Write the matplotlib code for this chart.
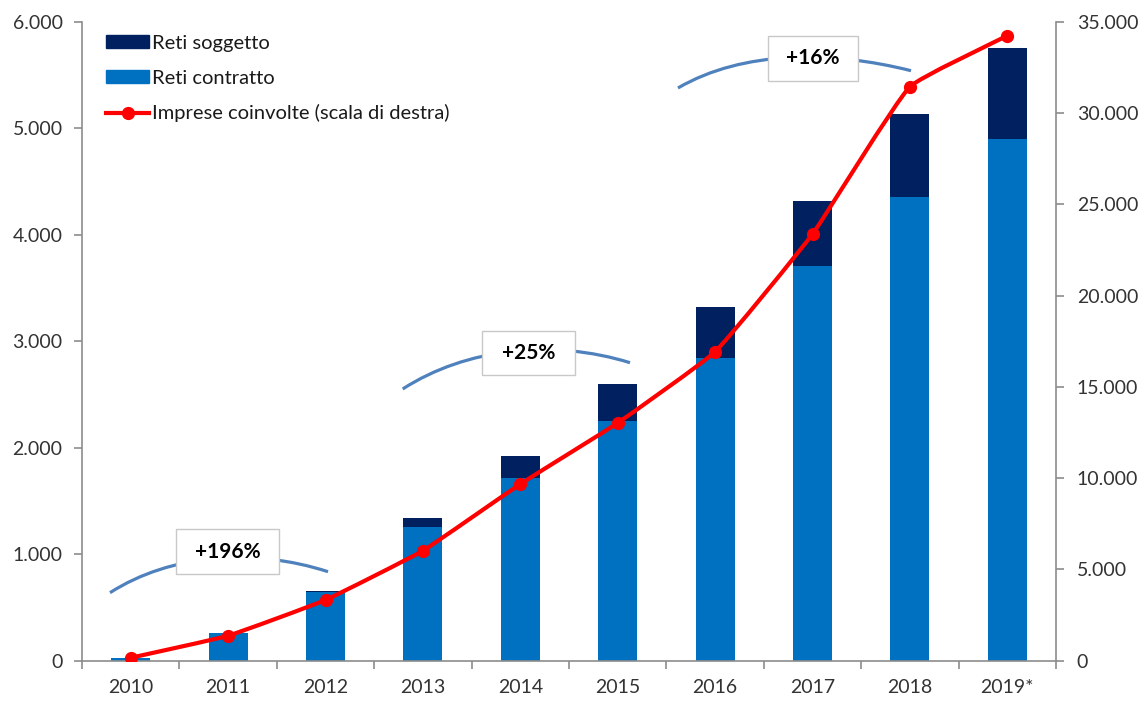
import numpy as np
import matplotlib
matplotlib.use('Agg')
import matplotlib.pyplot as plt
from matplotlib.path import Path
from matplotlib.patches import PathPatch, Rectangle, Patch
from matplotlib.lines import Line2D
from matplotlib.ticker import FuncFormatter

plt.rcParams['font.family'] = ['Lato', 'DejaVu Sans']

##------------------------------------------
# dati
anni = ['2010', '2011', '2012', '2013', '2014', '2015', '2016', '2017', '2018', '2019*']
reti_contratto = [28, 257, 642, 1257, 1713, 2252, 2847, 3708, 4358, 4905]
reti_soggetto = [0, 0, 13, 79, 213, 348, 473, 608, 781, 848]
imprese = [160, 1370, 3330, 6030, 9680, 13030, 16930, 23380, 31450, 34250]
variazioni = ['+196%', '+25%', '+16%']

BLU = '#0070C0'
NAVY = '#002060'
ROSSO = '#FF0000'
GRIGIO = '#8C8C8C'
TESTO = '#333333'


def smooth_path(xs, ys, sx, sy, k=0.12):
    # curva tipo Excel: tangenti Catmull-Rom, lunghezza scalata sul segmento (in pixel)
    pts = np.column_stack([np.asarray(xs) * sx, np.asarray(ys) * sy]).astype(float)
    n = len(pts)
    verts = [pts[0]]
    codes = [Path.MOVETO]
    for i in range(n - 1):
        p0 = pts[max(i - 1, 0)]
        p1 = pts[i]
        p2 = pts[i + 1]
        p3 = pts[min(i + 2, n - 1)]
        L = np.hypot(*(p2 - p1))
        t1 = (p2 - p0) / np.hypot(*(p2 - p0))
        t2 = (p3 - p1) / np.hypot(*(p3 - p1))
        verts += [p1 + t1 * L * k, p2 - t2 * L * k, p2]
        codes += [Path.CURVE4] * 3
    verts = np.array(verts) / [sx, sy]
    return Path(verts, codes)


def punti(v, pos):
    return '{:,.0f}'.format(v).replace(',', '.')


fig = plt.figure(figsize=(11.41, 7.04), dpi=100)
ax = fig.add_axes([82 / 1141, 1 - 660.7 / 704, (1056 - 82) / 1141, (660.7 - 22) / 704])
x = np.arange(len(anni))

ax.bar(x, reti_contratto, width=0.4, color=BLU, zorder=2)
ax.bar(x, reti_soggetto, width=0.4, bottom=reti_contratto, color=NAVY, zorder=2)
ax.set_xlim(-0.5, len(anni) - 0.5)
ax.set_ylim(0, 6000)
ax.set_yticks(np.arange(0, 6001, 1000))
ax.yaxis.set_major_formatter(FuncFormatter(punti))

ax.set_xticks(np.arange(-0.5, len(anni), 1))
ax.set_xticklabels([])
ax.set_xticks(x, minor=True)
ax.set_xticklabels(anni, minor=True)
ax.tick_params(axis='x', which='major', length=6, width=1.2, color=GRIGIO, direction='out')
ax.tick_params(axis='x', which='minor', length=0, pad=13, labelsize=14, labelcolor=TESTO)
ax.tick_params(axis='y', length=6, width=1.2, color=GRIGIO, pad=8, labelsize=14, labelcolor=TESTO)

for s in ['left', 'bottom']:
    ax.spines[s].set_color(GRIGIO)
    ax.spines[s].set_linewidth(1.2)
ax.spines['top'].set_visible(False)
ax.spines['right'].set_visible(False)

ax2 = ax.twinx()
ax2.set_ylim(0, 35000)
ax2.set_yticks(np.arange(0, 35001, 5000))
ax2.yaxis.set_major_formatter(FuncFormatter(punti))
ax2.tick_params(axis='y', length=6, width=1.2, color=GRIGIO, pad=9, labelsize=14, labelcolor=TESTO)
ax2.spines['right'].set_color(GRIGIO)
ax2.spines['right'].set_linewidth(1.2)
for s in ['left', 'top', 'bottom']:
    ax2.spines[s].set_visible(False)

sx = 974 / len(anni)
sy = 638.7 / 35000
ax2.add_patch(PathPatch(smooth_path(x, imprese, sx, sy), fill=False, edgecolor=ROSSO, lw=3,
                        capstyle='round', joinstyle='round', zorder=3))
ax2.plot(x, imprese, 'o', color=ROSSO, ms=8.5, zorder=4)

handles = [Patch(color=NAVY), Patch(color=BLU),
           Line2D([], [], color=ROSSO, lw=3, marker='o', ms=8.5)]
labels = ['Reti soggetto', 'Reti contratto', 'Imprese coinvolte (scala di destra)']
ax2.legend(handles, labels, loc='upper left', bbox_to_anchor=(0.008, 1.005), frameon=False,
           fontsize=14.5, handlelength=2.15, handleheight=0.6, handletextpad=0.15, labelspacing=0.88,
           borderpad=0.3, labelcolor='#1a1a1a')

#------------------------------------------------------------
# archi e box con le variazioni (coordinate in pixel)
over = fig.add_axes([0, 0, 1, 1])
over.set_xlim(0, 1141)
over.set_ylim(704, 0)
over.axis('off')
archi = [((110, 592.7), (328, 571.7), 39, 24),
         ((402.7, 389), (630, 362.7), 41, 24),
         ((678, 88), (911, 70.7), 38, 20)]
box = [(176, 529, 103, 45), (482, 331, 93, 44), (768, 36, 90, 45)]
for (p0, p3, d1, d2), (bx, by, bw, bh), lab in zip(archi, box, variazioni):
    w = p3[0] - p0[0]
    c1 = (p0[0] + 0.28 * w, p0[1] - d1)
    c2 = (p3[0] - 0.34 * w, p3[1] - d2)
    pa = Path([p0, c1, c2, p3], [Path.MOVETO, Path.CURVE4, Path.CURVE4, Path.CURVE4])
    over.add_patch(PathPatch(pa, fill=False, edgecolor='#4F81BD', lw=2.3, capstyle='butt'))
    over.add_patch(Rectangle((bx, by), bw, bh, facecolor='white', edgecolor='#C8C8C8', lw=1))
    over.text(bx + bw / 2, by + bh / 2, lab, ha='center', va='center', fontsize=15,
              fontweight='bold', color='black')

fig.savefig('out.png', dpi=100)
